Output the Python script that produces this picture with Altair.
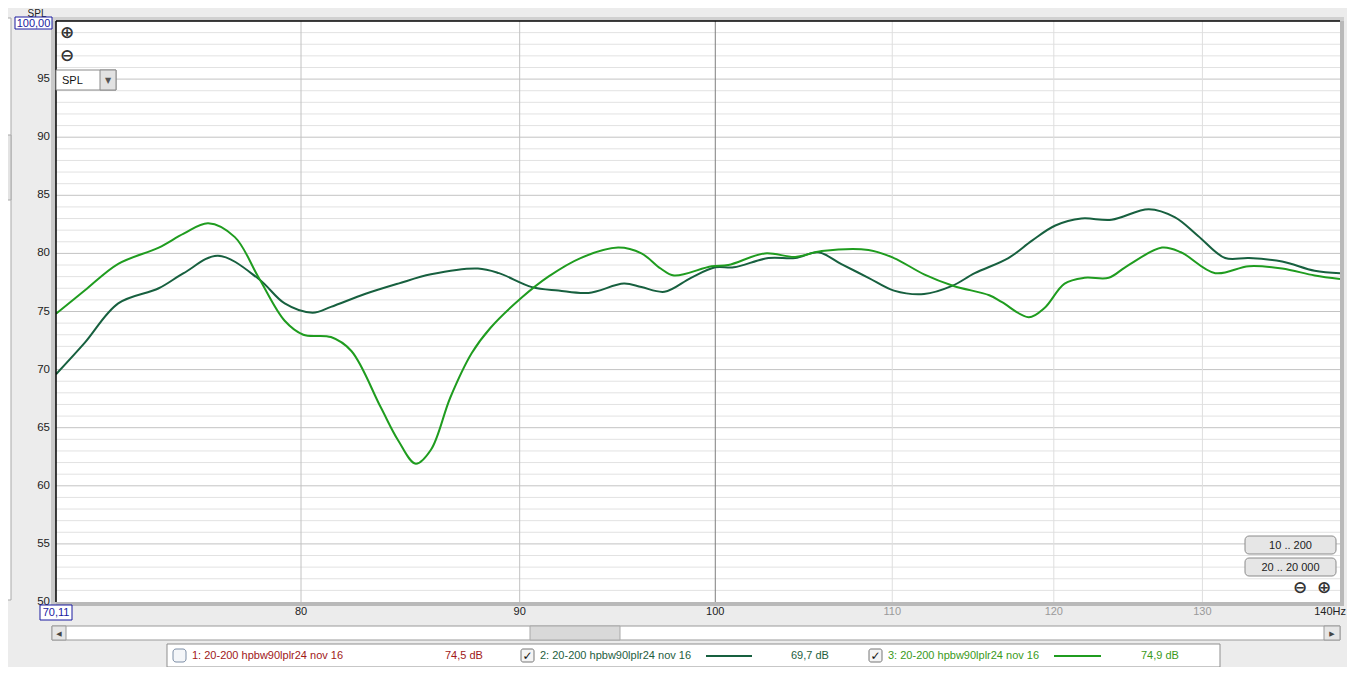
import altair as alt
import pandas as pd

# ---------------- data ----------------
freq_2 = [70.11, 71.2, 72.5, 74.1, 75.1, 76.5, 78.2, 79.3, 80.5, 81.3, 82.8, 84.3, 85.8, 88.0, 89.0,
          90.6, 91.9, 93.4, 95.2, 96.1, 97.3, 98.7, 100.0, 101.0, 102.9, 104.4, 105.7, 107.0, 108.6,
          110.1, 111.9, 113.6, 115.0, 117.1, 118.6, 120.1, 121.8, 123.8, 126.3, 128.1, 129.7, 131.6,
          133.3, 135.7, 138.1, 140.0]
spl_2 = [69.6, 72.3, 75.7, 77.0, 78.3, 79.8, 77.8, 75.7, 74.9, 75.4, 76.5, 77.4, 78.2, 78.7, 78.3,
         77.1, 76.8, 76.6, 77.4, 77.1, 76.7, 77.9, 78.8, 78.8, 79.6, 79.6, 80.1, 79.1, 77.9,
         76.8, 76.5, 77.2, 78.3, 79.6, 81.1, 82.4, 83.0, 82.9, 83.8, 83.1, 81.5, 79.6,
         79.6, 79.3, 78.5, 78.3]

freq_3 = [70.11, 71.2, 72.5, 74.1, 75.1, 76.1, 77.2, 78.2, 79.3, 80.1, 81.3, 82.2, 83.5, 84.3, 85.1,
          85.8, 86.7, 87.7, 88.6, 90.1, 91.4, 93.0, 94.9, 96.1, 97.1, 97.8, 99.8, 100.7, 102.7, 104.4,
          105.9, 108.6, 110.1, 111.9, 113.7, 115.9, 116.7, 118.4, 119.4, 120.7, 122.0, 123.6, 124.7,
          127.2, 128.5, 130.9, 133.3, 135.7, 138.1, 140.0]
spl_3 = [74.8, 76.8, 79.1, 80.5, 81.7, 82.6, 81.4, 77.9, 74.2, 73.0, 72.8, 71.6, 66.8, 63.9, 61.9,
         63.1, 67.6, 71.4, 73.6, 76.2, 78.0, 79.6, 80.5, 80.0, 78.7, 78.1, 78.9, 79.0, 80.0, 79.7,
         80.2, 80.3, 79.6, 78.2, 77.2, 76.4, 75.8, 74.5, 75.3, 77.4, 77.9, 77.9, 78.8,
         80.5, 80.1, 78.3, 78.9, 78.7, 78.1, 77.8]

series_names = ["2: 20-200 hpbw90lplr24 nov 16", "3: 20-200 hpbw90lplr24 nov 16"]
series_1_name = "1: 20-200 hpbw90lplr24 nov 16"
series_values = ["74,5 dB", "69,7 dB", "74,9 dB"]

x_ticks = [80, 90, 100, 110, 120, 130]
x_tick_labels = ["80", "90", "100", "110", "120", "130"]
x_grid_kind = ["mid", "mid", "main", "minor", "minor", "minor"]
x_label_kind = ["dark", "dark", "dark", "light", "light", "light"]
y_ticks = [50, 55, 60, 65, 70, 75, 80, 85, 90, 95]
y_tick_labels = ["50", "55", "60", "65", "70", "75", "80", "85", "90", "95"]
y_minor = [v for v in range(51, 100) if v % 5 != 0]
y_major = [55, 60, 65, 70, 75, 80, 85, 90, 95]

X_MIN, X_MAX = 70.11, 140.0
Y_MIN, Y_MAX = 50.0, 100.0

# ---------------- layout ----------------
W, H = 1284, 581
OX, OY = 56, 21          # page position of plot origin
FONT = "Liberation Sans"
DARK = "#17603f"
BRIGHT = "#1f9c1f"

df2 = pd.DataFrame({"freq": freq_2, "spl": spl_2, "series": series_names[0]})
df3 = pd.DataFrame({"freq": freq_3, "spl": spl_3, "series": series_names[1]})
xgrid = pd.DataFrame({"freq": x_ticks, "label": x_tick_labels, "kind": x_grid_kind, "lk": x_label_kind})
ylab = pd.DataFrame({"db": y_ticks, "label": y_tick_labels})

xs = alt.Scale(type="log", domain=[X_MIN, X_MAX], nice=False, zero=False)
ys = alt.Scale(domain=[Y_MIN, Y_MAX], nice=False, zero=False)

one = pd.DataFrame({"k": [0]})


def txt(text, px, py, color="#222", size=11, align="left", baseline="middle", font=FONT, weight="normal"):
    return alt.Chart(one).mark_text(text=text, align=align, baseline=baseline, color=color,
                                    fontSize=size, font=font, fontWeight=weight).encode(
        x=alt.value(px - OX), y=alt.value(py - OY))


def box(x1, y1, x2, y2, fill, stroke=None, radius=0, sw=1):
    kw = dict(fill=fill, cornerRadius=radius)
    if stroke:
        kw.update(stroke=stroke, strokeWidth=sw)
    return alt.Chart(one).mark_rect(**kw).encode(
        x=alt.value(x1 - OX), x2=alt.value(x2 - OX), y=alt.value(y1 - OY), y2=alt.value(y2 - OY))


def hline(x1, x2, py, color, sw=1):
    return alt.Chart(one).mark_rule(color=color, strokeWidth=sw).encode(
        x=alt.value(x1 - OX), x2=alt.value(x2 - OX), y=alt.value(py - OY))


def vline(px, y1, y2, color, sw=1):
    return alt.Chart(one).mark_rule(color=color, strokeWidth=sw).encode(
        x=alt.value(px - OX), y=alt.value(y1 - OY), y2=alt.value(y2 - OY))


# plot background & shadows
bg = box(OX, OY, OX + W, OY + H, "white")
shadows = [
    box(OX - 5, OY, OX, OY + H + 4, "#c9c9c9"),
    box(OX - 5, OY - 4, OX + W + 4, OY, "#d0d0d0"),
    box(OX + W, OY, OX + W + 4, OY + H + 4, "#b9b9b9"),
    box(OX, OY + H, OX + W + 4, OY + H + 4, "#b9b9b9"),
]

minor = alt.Chart(pd.DataFrame({"db": y_minor})).mark_rule(color="#e2e2e2", strokeWidth=1).encode(
    y=alt.Y("db:Q", scale=ys, axis=None))
major = alt.Chart(pd.DataFrame({"db": y_major})).mark_rule(color="#c3c3c3", strokeWidth=1).encode(
    y=alt.Y("db:Q", scale=ys, axis=None))
vgrid_mid = alt.Chart(xgrid[xgrid.kind == "mid"]).mark_rule(strokeWidth=1, color="#c2c2c2").encode(
    x=alt.X("freq:Q", scale=xs, axis=None))
vgrid_minor = alt.Chart(xgrid[xgrid.kind == "minor"]).mark_rule(strokeWidth=1, color="#dedede").encode(
    x=alt.X("freq:Q", scale=xs, axis=None))
vgrid_main = alt.Chart(xgrid[xgrid.kind == "main"]).mark_rule(strokeWidth=1, color="#7f7f7f").encode(
    x=alt.X("freq:Q", scale=xs, axis=None))

curve2 = alt.Chart(df2).mark_line(interpolate="catmull-rom", strokeWidth=2, clip=True, color=DARK).encode(
    x=alt.X("freq:Q", scale=xs, axis=None),
    y=alt.Y("spl:Q", scale=ys, axis=None))
curve3 = alt.Chart(df3).mark_line(interpolate="catmull-rom", strokeWidth=2, clip=True, color=BRIGHT).encode(
    x=alt.X("freq:Q", scale=xs, axis=None),
    y=alt.Y("spl:Q", scale=ys, axis=None))

xlabels_dark = alt.Chart(xgrid[xgrid.lk == "dark"]).mark_text(
    font=FONT, fontSize=11, baseline="middle", align="center", color="#222222").encode(
    x=alt.X("freq:Q", scale=xs, axis=None), y=alt.value(612 - OY), text="label:N")
xlabels_light = alt.Chart(xgrid[xgrid.lk == "light"]).mark_text(
    font=FONT, fontSize=11, baseline="middle", align="center", color="#9a9a9a").encode(
    x=alt.X("freq:Q", scale=xs, axis=None), y=alt.value(612 - OY), text="label:N")
ylabels = alt.Chart(ylab).mark_text(
    font=FONT, fontSize=11.5, baseline="middle", align="right", color="#222222").encode(
    y=alt.Y("db:Q", scale=ys, axis=None), x=alt.value(-6), text="label:N")

frame = [
    hline(OX, OX + W, OY, "#000000", 1.5),
    vline(OX, OY, OY + H, "#000000", 1.5),
]

deco = [
    # axis extras
    txt("140Hz", 1346, 612, align="right"),
    txt("SPL", 37, 14, size=10, align="center"),
    box(15, 17, 52, 29, "white", "#1a1aa0"),
    txt("100,00", 33.5, 23.5, color="#1a1aa0", align="center"),
    box(40, 605, 72, 620, "white", "#1a1aa0"),
    txt("70,11", 56, 612.5, color="#1a1aa0", align="center"),
    # top-left controls
    txt("⊕", 67, 33, color="#333", size=17, align="center", font="DejaVu Sans", weight="bold"),
    txt("⊖", 67, 56, color="#333", size=17, align="center", font="DejaVu Sans", weight="bold"),
    box(56, 70, 116, 90, "white", "#8a8a8a"),
    box(100, 70, 116, 90, "#e2e2e2", "#8a8a8a"),
    txt("SPL", 62, 80.5, color="#111"),
    txt("▼", 108, 80.5, color="#555", size=8, align="center", font="DejaVu Sans"),
    # bottom-right controls
    box(1245, 536, 1336, 554, "#e6e6e6", "#8a8a8a", 4),
    txt("10 .. 200", 1290.5, 545.5, color="#222", align="center"),
    box(1245, 558, 1336, 576, "#e6e6e6", "#8a8a8a", 4),
    txt("20 .. 20 000", 1290.5, 567.5, color="#222", align="center"),
    txt("⊖", 1300, 588, color="#333", size=17, align="center", font="DejaVu Sans", weight="bold"),
    txt("⊕", 1324, 588, color="#333", size=17, align="center", font="DejaVu Sans", weight="bold"),
    # left scrollbar
    box(0, 18, 11, 600, "white", "#a9a9a9"),
    box(0, 135, 11, 200, "#e3e3e3", "#a9a9a9"),
    # bottom scrollbar
    box(52, 626, 1340, 640, "white", "#9a9a9a"),
    box(52, 626, 66, 640, "#e6e6e6", "#9a9a9a"),
    txt("◀", 59, 633.5, color="#444", size=7, align="center", font="DejaVu Sans"),
    box(1324, 626, 1340, 640, "#e6e6e6", "#9a9a9a"),
    txt("▶", 1332, 633.5, color="#444", size=7, align="center", font="DejaVu Sans"),
    box(530, 626, 620, 640, "#d9d9d9", "#a9a9a9"),
    # legend box
    box(167, 644, 1220, 667, "white", "#8f8f8f"),
    box(173, 649, 186, 662, "#f4f6f9", "#7d8ea6", 3),
    txt(series_1_name, 192, 656, color="#a01818"),
    txt(series_values[0], 445, 656, color="#a01818"),
    box(521, 649, 534, 662, "#f4f4f4", "#777", 2),
    txt("✓", 527.5, 656, color="#111", size=12, align="center", font="DejaVu Sans", weight="bold"),
    txt(series_names[0], 540, 656, color="#1e5e3e"),
    hline(706, 752, 656, DARK, 2),
    txt(series_values[1], 791, 656, color="#1e5e3e"),
    box(869, 649, 882, 662, "#f4f4f4", "#777", 2),
    txt("✓", 875.5, 656, color="#111", size=12, align="center", font="DejaVu Sans", weight="bold"),
    txt(series_names[1], 888, 656, color="#3a9a1a"),
    hline(1054, 1101, 656, BRIGHT, 2),
    txt(series_values[2], 1141, 656, color="#3a9a1a"),
]

chart = alt.layer(
    *shadows, bg, minor, major, vgrid_minor, vgrid_mid, vgrid_main, curve2, curve3,
    xlabels_dark, xlabels_light, ylabels, *frame, *deco
).properties(
    width=W, height=H,
    autosize=alt.AutoSizeParams(type="none"),
    padding={"left": OX - 8, "top": OY - 8, "right": 1339 - (OX - 8) - W, "bottom": 659 - (OY - 8) - H},
    background="#ececec",
).configure_view(stroke=None)

chart.save("out.html", embed_options={"renderer": "svg", "actions": False})
